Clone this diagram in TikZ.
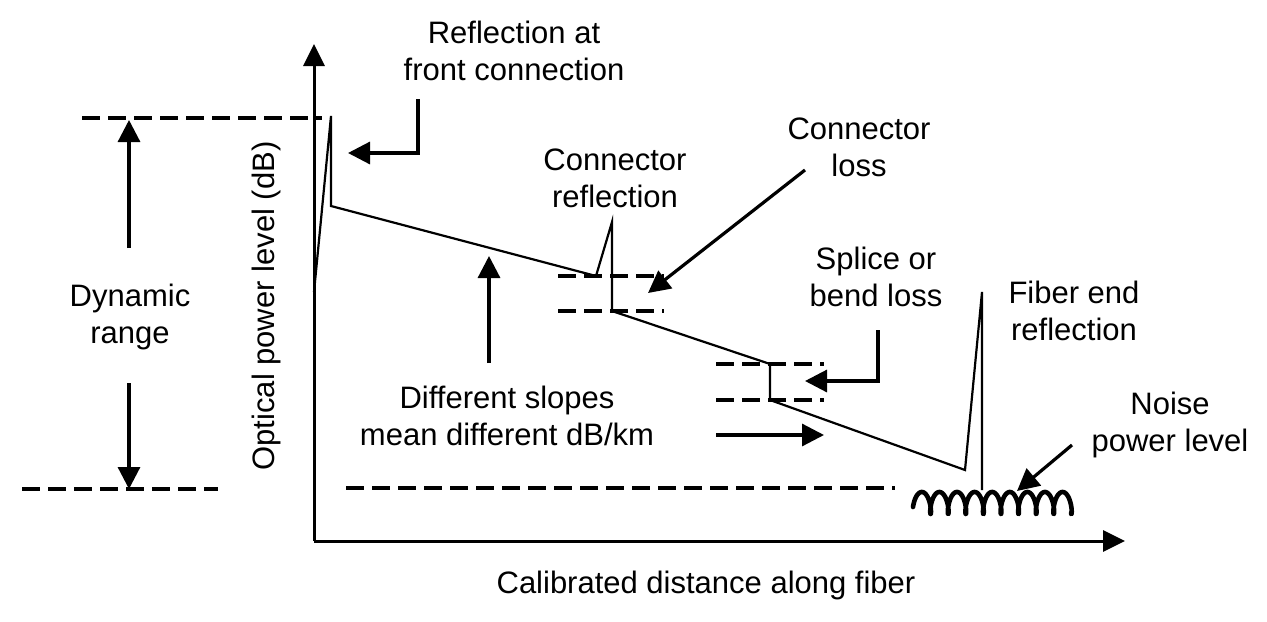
\documentclass[tikz,border=0pt]{standalone}
\usepackage{fontspec}
\setmainfont{Liberation Sans}
\usetikzlibrary{arrows.meta}
\tikzset{
  lbl/.style={align=center, inner sep=0pt,
    font=\fontsize{15.5}{18.5}\selectfont},
  axis/.style={line width=1.5pt, -{Triangle[length=11pt,width=10.5pt]}},
  trace/.style={line width=1.1pt, line join=miter},
  level/.style={line width=1.6pt, dash pattern=on 9pt off 4pt},
  pointer/.style={line width=1.6pt, -{Triangle[length=11pt,width=11pt]}},
  noise/.style={line width=2.3pt, line join=round, line cap=round}
}
\begin{document}
\begin{tikzpicture}[x=0.5pt,y=-0.5pt]
  \useasboundingbox (0,0) rectangle (1267,621);
  % axes
  \coordinate (o) at (314,541);
  \coordinate (ytop) at (314,44);
  \coordinate (xend) at (1125,541);
  \draw[axis] (o) -- (ytop);
  \draw[axis] (o) -- (xend);
  \node[lbl] (xlab) at (706,585) {Calibrated distance along fiber};
  \node[lbl,rotate=90] (ylab) at (266,306) {Optical power level (dB)};
  % trace points
  \coordinate (t0) at (314,292);
  \coordinate (t1) at (331,116);
  \coordinate (t2) at (331,206);
  \coordinate (t3) at (596,276);
  \coordinate (t4) at (612,222);
  \coordinate (t5) at (612,311);
  \coordinate (t6) at (770,364);
  \coordinate (t7) at (770,400);
  \coordinate (t8) at (965,470);
  \coordinate (t9) at (982,292);
  \coordinate (t10) at (982,490);
  \draw[trace] (t0) -- (t1) -- (t2) -- (t3) -- (t4) -- (t5) -- (t6)
    -- (t7) -- (t8) -- (t9) -- (t10);
  % dashed levels
  \draw[level] (82,118) -- (322,118);
  \draw[level] (22,489) -- (218,489);
  \draw[level] (558,276) -- (664,276);
  \draw[level] (558,311) -- (664,311);
  \draw[level] (716,364) -- (824,364);
  \draw[level] (716,400) -- (824,400);
  \draw[level] (346,488) -- (895,488);
  % noise
  \draw[noise] plot[domain=1.2:57, samples=600, smooth]
    ({913+2.8*\x-3.6*sin(\x r)}, {503+11*cos(\x r)});
  % dynamic range
  \node[lbl] (dyn) at (130,317) {Dynamic\\range};
  \coordinate (dynup) at (129,120);
  \coordinate (dyndn) at (129,489);
  \draw[pointer] (129,248) -- (dynup);
  \draw[pointer] (129,383) -- (dyndn);
  % labels
  \node[lbl] (front) at (514,51) {Reflection at\\front connection};
  \node[lbl] (creflect) at (615,178) {Connector\\reflection};
  \node[lbl] (closs) at (859,147) {Connector\\loss};
  \node[lbl] (splice) at (876,277) {Splice or\\bend loss};
  \node[lbl] (fend) at (1074,311) {Fiber end\\reflection};
  \node[lbl] (npow) at (1170,425) {Noise\\power level};
  \node[lbl] (slopes) at (507,416) {Different slopes\\mean different dB/km};
  % pointers
  \coordinate (fr0) at (418,99);
  \coordinate (frtip) at (348,153);
  \draw[pointer] (fr0) |- (frtip);
  \coordinate (cl0) at (805,170);
  \coordinate (cltip) at (648,293);
  \draw[pointer] (cl0) -- (cltip);
  \coordinate (sp0) at (878,330);
  \coordinate (sptip) at (805,381);
  \draw[pointer] (sp0) |- (sptip);
  \coordinate (np0) at (1072,445);
  \coordinate (nptip) at (1017,491);
  \draw[pointer] (np0) -- (nptip);
  \coordinate (sl0) at (489,363);
  \coordinate (sltip) at (489,256);
  \draw[pointer] (sl0) -- (sltip);
  \coordinate (sr0) at (716,435);
  \coordinate (srtip) at (824,435);
  \draw[pointer] (sr0) -- (srtip);
\end{tikzpicture}
\end{document}
